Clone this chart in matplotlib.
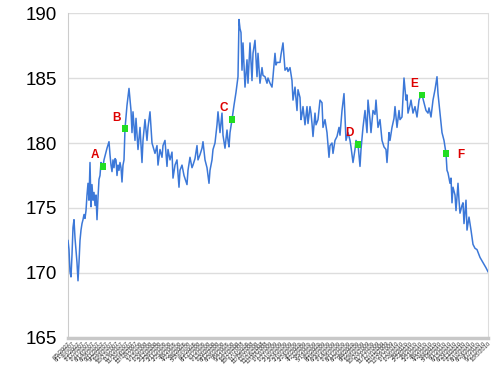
import numpy as np
import pandas as pd
import matplotlib
matplotlib.use('Agg')
import matplotlib.pyplot as plt

plt.rcParams['font.family'] = ['Liberation Sans', 'DejaVu Sans']

# session index and value, in four stretches
day_a = list(range(0, 80, 2)) + [82, 84, 86, 88, 90, 92, 94, 96, 98, 100, 102,
                                 104, 106, 108, 110, 112, 114]
price_a = [172.5, 171.8, 170.1, 169.7, 171.4, 173.5, 174.1, 172.7, 171.8, 170.8,
           169.4, 170.8, 172.5, 173.3, 173.8, 174.1, 174.5, 174.2, 174.8, 176.0,
           176.9, 175.6, 178.5, 175.1, 176.8, 175.6, 176.2, 175.2, 176.0, 174.1,
           175.8, 177.2, 177.5, 178.5, 178.1, 178.2, 178.7, 179.0, 179.3, 179.6,
           180.1, 179.1, 178.3, 177.8, 178.7, 178.1, 178.8, 178.7, 177.5, 178.3,
           177.9, 178.5, 178.1, 177.0, 178.3, 178.7, 181.1]

day_b = [118, 122, 126, 128, 130, 134, 136, 140, 144, 148, 150, 154, 158, 160,
         164, 168, 174, 178, 180, 184, 188, 190, 194, 198, 200, 204, 208, 210,
         214, 218, 222, 224, 228, 232, 238, 240, 244, 248, 250, 254, 258, 260,
         264, 268, 270, 274, 278, 282, 284, 288, 290, 294, 298, 300, 304, 308,
         310, 314, 318, 320, 322, 324, 328]
price_b = [182.9, 184.2, 182.5, 180.8, 182.4, 180.2, 181.9, 179.5, 181.2, 178.5,
           180.2, 181.8, 180.2, 181.2, 182.4, 180.0, 179.2, 179.8, 178.3, 179.5,
           178.9, 179.8, 180.2, 178.2, 179.5, 178.7, 179.3, 177.3, 178.3, 178.7,
           176.6, 177.9, 178.3, 177.5, 176.8, 177.9, 178.9, 178.1, 178.3, 178.8,
           179.8, 178.7, 179.1, 179.6, 180.1, 178.7, 178.1, 176.9, 177.9, 178.7,
           179.5, 180.0, 181.4, 182.4, 180.8, 182.3, 180.6, 179.6, 181.0, 180.2,
           179.7, 180.8, 181.8]

day_c = [332, 336, 338, 340, 342, 344, 346, 348, 350, 354, 358, 360, 364, 368,
         370, 374, 378, 380, 384, 388, 390, 394, 398, 400, 404, 408, 410, 414,
         416, 418, 422, 424, 426, 430, 432, 434, 438, 440, 444, 448, 450, 454,
         458, 460, 464, 466, 468, 470, 474, 478, 480, 484, 486, 488, 490, 494,
         496, 500, 504, 508, 510, 514, 518, 522, 524, 528, 530, 534, 538, 542,
         544, 548, 552, 556, 560, 564, 566, 570, 574, 576, 580]
price_c = [182.9, 183.9, 184.5, 185.1, 189.5, 188.8, 188.5, 185.6, 187.7, 184.3,
           186.4, 184.6, 187.7, 184.8, 186.9, 187.9, 185.1, 186.9, 184.6, 185.8,
           185.2, 185.1, 184.6, 185.0, 184.6, 184.3, 185.1, 186.9, 186.0, 186.2,
           186.2, 186.2, 186.8, 187.7, 186.6, 185.6, 185.8, 185.5, 185.8, 184.8,
           183.3, 184.3, 182.5, 184.1, 183.5, 181.8, 182.2, 182.8, 181.4, 182.8,
           181.5, 182.8, 182.3, 181.5, 180.5, 182.3, 181.4, 181.8, 183.3, 183.1,
           181.2, 181.8, 180.8, 178.9, 179.8, 180.0, 179.2, 180.2, 180.5, 181.2,
           180.6, 182.5, 183.8, 180.2, 180.8, 180.2, 179.7, 178.5, 179.5, 180.2,
           179.9]

day_d = [584, 586, 590, 594, 598, 600, 604, 606, 610, 614, 616, 620, 624, 628,
         632, 636, 638, 642, 644, 648, 652, 654, 658, 662, 664, 668, 672, 676,
         678, 680, 684, 686, 690, 694, 698, 702, 704, 708, 712, 716, 720, 722,
         726, 730, 734, 738, 740, 744, 748, 752, 756, 758, 760, 764, 766, 768,
         770, 774, 776, 780, 782, 784, 788, 790, 792, 796, 798, 802, 806, 810,
         814, 818, 824, 830, 836, 840]
price_d = [178.2, 179.5, 181.2, 182.5, 180.8, 183.3, 181.8, 180.8, 182.5, 182.2,
           183.3, 181.2, 181.8, 180.2, 179.7, 179.5, 178.5, 180.8, 180.2, 181.2,
           181.9, 182.8, 181.2, 182.5, 181.8, 182.0, 185.0, 183.3, 183.7, 182.3,
           182.9, 183.3, 182.3, 182.8, 182.0, 183.3, 183.5, 183.7, 183.1, 182.5,
           182.3, 182.7, 182.0, 183.3, 184.1, 185.1, 183.8, 182.3, 180.8, 180.2,
           179.2, 177.9, 177.7, 176.9, 177.3, 175.4, 176.6, 176.0, 174.8, 176.9,
           175.6, 174.6, 175.2, 175.4, 173.8, 175.6, 173.3, 174.3, 173.3, 172.2,
           171.9, 171.8, 171.2, 170.8, 170.4, 170.1]

marker_names = ['A', 'B', 'C', 'D', 'E', 'F']
marker_day = [70, 114, 328, 580, 708, 756]
marker_price = [178.2, 181.1, 181.8, 179.9, 183.7, 179.2]

tick_start = '2007-06-05'
n_ticks = 88

day = day_a + day_b + day_c + day_d
price = price_a + price_b + price_c + price_d
assert len(day) == len(price), (len(day), len(price))

fig = plt.figure(figsize=(5, 3.75), dpi=100)
ax = fig.add_axes([0.136, 0.0987, 0.84, 0.8666])

ax.plot(day, price, color='#3c78d8', lw=1.1, zorder=3)
ax.scatter(marker_day, marker_price, marker='s', s=24, color='#22dd22', zorder=4,
           edgecolors='none')
for name, d, p in zip(marker_names, marker_day, marker_price):
    off = (11, -1) if name == 'F' else (-6, 8)
    ax.annotate(name, (d, p), xytext=off, textcoords='offset points',
                color='#dd0000', fontsize=8.5, fontweight='bold',
                ha='center', va='center')

ax.set_ylim(165, 190)
ax.set_yticks([165, 170, 175, 180, 185, 190])
ax.set_xlim(0, 840)

dates = pd.date_range(tick_start, periods=n_ticks, freq='14D')
ticks = np.linspace(0, 840, n_ticks)
ax.set_xticks(ticks)
ax.set_xticklabels([f'{d.month}/{d.day}/{d.year}' for d in dates],
                   rotation=45, ha='right', rotation_mode='anchor',
                   fontsize=4.2, color='#333333')
ax.tick_params(axis='y', length=0, labelsize=13.5, pad=8)
ax.tick_params(axis='x', length=0, pad=2)

ax.grid(axis='y', color='#dddddd', lw=1)
ax.set_axisbelow(True)
ax.spines['top'].set_visible(False)
ax.spines['left'].set_color('#cccccc')
ax.spines['right'].set_color('#dddddd')
ax.spines['bottom'].set_color('#c8c8c8')
ax.spines['bottom'].set_linewidth(2.5)

plt.savefig('out.png', dpi=100)
